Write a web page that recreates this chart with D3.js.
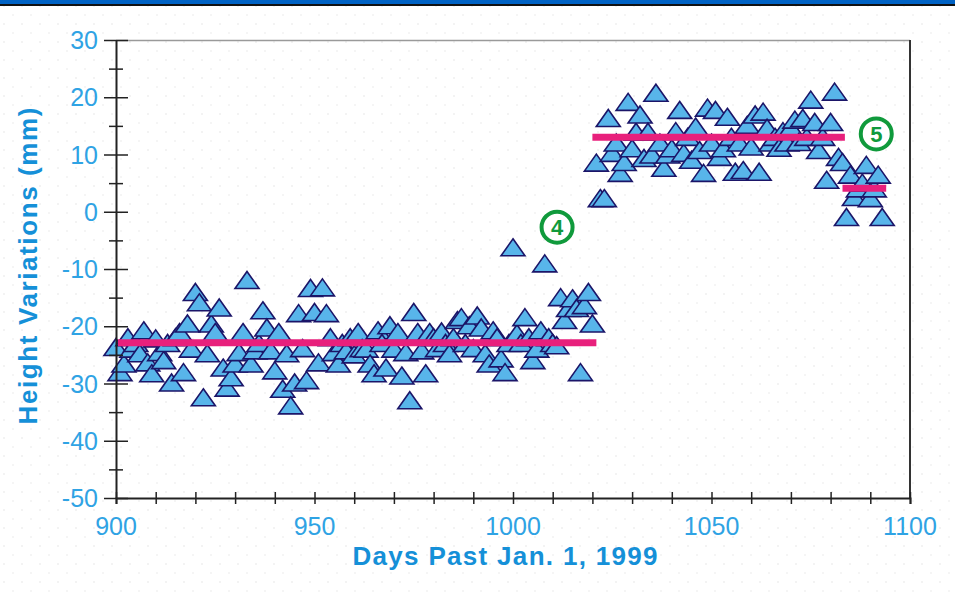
<!DOCTYPE html>
<html>
<head>
<meta charset="utf-8">
<script src="https://cdn.jsdelivr.net/npm/d3@7"></script>
<style>
  html, body { margin: 0; padding: 0; background: #fff; }
  svg { display: block; }
</style>
</head>
<body>
<svg id="chart" width="955" height="599"></svg>
<script>
// ---- data ----
const days = [
  900,901,902,903,904,905,906,907,908,909,910,911,912,913,914,915,916,917,918,919,
  920,921,922,923,924,925,926,927,928,929,930,931,932,933,934,935,936,937,938,939,
  940,941,942,943,944,945,946,947,948,949,950,951,952,953,954,955,956,957,958,959,
  960,961,962,963,964,965,966,967,968,969,970,971,972,973,974,975,976,977,978,979,
  980,981,982,983,984,985,986,987,988,989,990,991,992,993,994,995,996,997,998,999,
  1000,1001,1002,1003,1004,1005,1006,1007,1008,1009,1010,1011,1012,1013,1014,1015,1016,1017,1018,1019,
  1020,1021,1022,1023,1024,1025,1026,1027,1028,1029,1030,1031,1032,1033,1034,1035,1036,1037,1038,1039,
  1040,1041,1042,1043,1044,1045,1046,1047,1048,1049,1050,1051,1052,1053,1054,1055,1056,1057,1058,1059,
  1060,1061,1062,1063,1064,1065,1066,1067,1068,1069,1070,1071,1072,1073,1074,1075,1076,1077,1078,1079,
  1080,1081,1082,1083,1084,1085,1086,1087,1088,1089,1090,1091,1092,1093
];
const heights = [
  -23.7,-28.1,-26.6,-22.0,-24.0,-23.0,-24.8,-20.8,-26.4,-28.3,-22.2,-24.6,-26.0,-23.0,-29.9,-22.0,-21.1,-28.1,-19.6,-24.0,
  -14.1,-15.9,-32.5,-24.8,-19.6,-21.1,-16.8,-27.3,-30.8,-29.0,-26.6,-24.6,-21.1,-12.0,-26.6,-24.3,-23.0,-17.3,-20.3,-24.3,
  -27.8,-21.1,-31.0,-24.8,-33.9,-29.9,-17.8,-23.9,-29.5,-13.4,-17.6,-26.4,-13.3,-17.8,-22.0,-24.6,-26.6,-23.0,-24.3,-22.0,
  -25.0,-21.1,-23.9,-24.0,-26.6,-28.3,-20.8,-23.0,-27.3,-19.9,-24.0,-21.1,-28.7,-24.6,-33.0,-17.6,-21.1,-24.3,-28.3,-21.1,
  -22.0,-23.9,-21.0,-23.0,-24.8,-22.0,-19.0,-18.5,-23.0,-19.9,-23.9,-18.2,-20.3,-24.8,-26.6,-20.8,-22.0,-25.7,-28.1,-23.0,
  -6.3,-21.3,-23.0,-18.5,-22.0,-26.0,-24.0,-20.8,-9.1,-22.0,-23.0,-23.4,-15.0,-19.0,-16.9,-15.2,-16.9,-28.1,-16.4,-14.1,
  -19.6,8.5,2.3,2.3,16.3,10.2,12.0,6.7,8.6,19.1,11.0,13.9,16.9,9.3,13.9,9.9,20.7,12.0,7.6,9.9,
  11.0,14.0,17.7,10.2,13.0,9.0,14.8,10.7,6.7,18.1,12.0,17.7,9.5,11.0,16.5,13.0,6.9,12.0,7.2,15.1,
  11.3,16.9,6.9,17.4,14.6,12.0,13.0,11.1,14.0,12.0,14.6,16.0,12.1,16.3,13.0,19.5,15.6,10.7,13.0,5.5,
  15.6,20.9,9.5,8.6,-1.0,6.4,2.5,4.0,5.0,8.1,2.3,4.0,6.4,-1.0
];
// mean levels (pink bars): [start day, end day, level]
const levelStarts = [900.5, 1020, 1083];
const levelEnds   = [1021, 1083.6, 1094];
const levelValues = [-22.9, 13.0, 4.1];
// circled annotations
const noteLabels = ["4", "5"];
const noteDays   = [1011.1, 1091.5];
const noteValues = [-2.7, 13.6];
// axis ticks
const xTickLabels = [900, 950, 1000, 1050, 1100];
const yTickLabels = [30, 20, 10, 0, -10, -20, -30, -40, -50];
const xTitle = "Days Past Jan. 1, 1999";
const yTitle = "Height Variations (mm)";

// ---- layout ----
const svg = d3.select("#chart");
const L = 116, R = 910, T = 40, B = 498;
const x = d3.scaleLinear().domain([900, 1100]).range([L, R]);
const y = d3.scaleLinear().domain([-50, 30]).range([B, T]);

const tickBlue = "#2fa3e4";
const titleBlue = "#1590d8";

// header bars
svg.append("rect").attr("x", 0).attr("y", 0).attr("width", 955).attr("height", 4).attr("fill", "#0062c4");
svg.append("rect").attr("x", 0).attr("y", 4).attr("width", 955).attr("height", 2).attr("fill", "#111");

// faint dotted background
const defs = svg.append("defs");
const pat = defs.append("pattern").attr("id", "dots").attr("patternUnits", "userSpaceOnUse")
  .attr("width", 18).attr("height", 18);
pat.append("rect").attr("x", 3).attr("y", 5).attr("width", 2).attr("height", 2).attr("fill", "#f3f3f3");
pat.append("rect").attr("x", 12).attr("y", 14).attr("width", 2).attr("height", 2).attr("fill", "#f5f5f5");
svg.append("rect").attr("x", 0).attr("y", 6).attr("width", 955).attr("height", 593).attr("fill", "url(#dots)");

// frame top / right
svg.append("line").attr("x1", L).attr("x2", R).attr("y1", T + 0.5).attr("y2", T + 0.5)
  .attr("stroke", "#9a9a9a").attr("stroke-width", 1.5);
svg.append("line").attr("x1", R).attr("x2", R).attr("y1", T).attr("y2", B)
  .attr("stroke", "#333").attr("stroke-width", 2);

// ---- data marks ----
const pts = days.map((d, i) => ({ d: d, v: heights[i] }));
const tri = (cx, cy) => `M${cx},${cy - 9}L${cx + 12},${cy + 8}L${cx - 12},${cy + 8}Z`;
svg.append("g").selectAll("path").data(pts).join("path")
  .attr("d", p => tri(x(p.d), y(p.v)))
  .attr("fill", "#58b5ea")
  .attr("stroke", "#1b1568")
  .attr("stroke-width", 1.6)
  .attr("stroke-linejoin", "miter");

// mean level bars
svg.append("g").selectAll("line").data(levelValues).join("line")
  .attr("x1", (v, i) => x(levelStarts[i]))
  .attr("x2", (v, i) => x(levelEnds[i]))
  .attr("y1", v => y(v)).attr("y2", v => y(v))
  .attr("stroke", "#e8207c").attr("stroke-width", 7);

// ---- axes ----
const xAxis = d3.axisBottom(x).tickValues(d3.range(900, 1101, 10)).tickSize(6).tickFormat("");
const gx = svg.append("g").attr("transform", `translate(0,${B})`).call(xAxis);
gx.select(".domain").attr("stroke", "#222").attr("stroke-width", 2);
gx.selectAll(".tick line").attr("y1", -6).attr("y2", 6).attr("stroke", "#222").attr("stroke-width", 1.5);

const yAxis = d3.axisLeft(y).tickValues(d3.range(-50, 31, 5)).tickSize(0).tickFormat("");
const gy = svg.append("g").attr("transform", `translate(${L},0)`).call(yAxis);
gy.select(".domain").attr("stroke", "#222").attr("stroke-width", 2);
gy.selectAll(".tick line")
  .attr("x1", d => (d % 10 === 0 ? -12 : -7))
  .attr("x2", d => (d % 10 === 0 ? 12 : 7))
  .attr("stroke", "#222").attr("stroke-width", 1.5);

// tick labels
svg.append("g").selectAll("text").data(xTickLabels).join("text")
  .attr("x", d => x(d)).attr("y", B + 37)
  .attr("text-anchor", "middle")
  .attr("font-family", "Liberation Sans, Arial, sans-serif")
  .attr("font-size", 25).attr("fill", tickBlue)
  .text(d => d);
svg.append("g").selectAll("text").data(yTickLabels).join("text")
  .attr("x", 98).attr("y", d => y(d) + 9)
  .attr("text-anchor", "end")
  .attr("font-family", "Liberation Sans, Arial, sans-serif")
  .attr("font-size", 25).attr("fill", tickBlue)
  .text(d => d);

// titles
svg.append("text").attr("x", 505).attr("y", 565)
  .attr("text-anchor", "middle")
  .attr("font-family", "Liberation Sans, Arial, sans-serif")
  .attr("font-weight", "bold").attr("font-size", 26).attr("fill", titleBlue)
  .attr("textLength", 305).attr("lengthAdjust", "spacing")
  .text(xTitle);
svg.append("text")
  .attr("transform", "translate(37,266) rotate(-90)")
  .attr("text-anchor", "middle")
  .attr("font-family", "Liberation Sans, Arial, sans-serif")
  .attr("font-weight", "bold").attr("font-size", 26).attr("fill", titleBlue)
  .attr("textLength", 317).attr("lengthAdjust", "spacing")
  .text(yTitle);

// circled annotations
const notes = svg.append("g").selectAll("g").data(noteLabels).join("g")
  .attr("transform", (t, i) => `translate(${x(noteDays[i])},${y(noteValues[i])})`);
notes.append("circle").attr("r", 15.5).attr("fill", "#fff")
  .attr("stroke", "#109a3c").attr("stroke-width", 4);
notes.append("text").attr("y", 8).attr("text-anchor", "middle")
  .attr("font-family", "Liberation Sans, Arial, sans-serif")
  .attr("font-weight", "bold").attr("font-size", 22).attr("fill", "#109a3c")
  .text(t => t);
</script>
</body>
</html>
